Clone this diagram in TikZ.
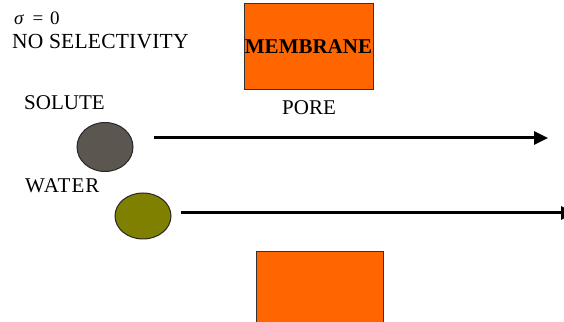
\documentclass[tikz,border=0pt]{standalone}
\usepackage{fontspec}
\setmainfont{Liberation Serif}
\usetikzlibrary{arrows.meta,shapes.geometric}
\begin{document}
\begin{tikzpicture}[x=1pt,y=1pt,
  label/.style={inner sep=0pt, anchor=base west, font=\fontsize{21}{25}\selectfont},
  membrane/.style={draw=black!80, line width=1pt, fill=orangefill, inner sep=0pt},
  particle/.style={draw=black!85, line width=1pt, ellipse, inner sep=0pt},
  flow/.style={line width=3pt, -{Triangle[length=14pt,width=13pt]}}]
\definecolor{orangefill}{HTML}{FF6600}
\definecolor{solutefill}{HTML}{5C5650}
\definecolor{waterfill}{HTML}{808000}
\useasboundingbox (0,0) rectangle (564,321);
\clip (0,0) rectangle (564,321);

% heading
\node[label, font=\fontsize{19}{23}\selectfont] (sigma) at (14,296) {\textit{σ}\hspace{0.45em}=\hspace{0.35em}0};
\node[label, font=\fontsize{21.5}{25}\selectfont\addfontfeature{LetterSpace=1}] (nosel) at (12,272) {NO SELECTIVITY};

% membrane blocks on either side of the pore
\node[membrane, minimum width=129pt, minimum height=86pt] (memtop) at (308.5,274)
  {\fontsize{21}{24}\selectfont\bfseries MEMBRANE};
\node[membrane, minimum width=127pt, minimum height=100pt] (membot) at (319.5,19) {};
\node[label] (pore) at (282,206) {PORE};

% particles
\node[label] (solutelbl) at (24,211) {SOLUTE};
\node[label, font=\fontsize{21}{25}\selectfont\addfontfeature{LetterSpace=5}] (waterlbl) at (25,128) {WATER};
\node[particle, fill=solutefill, minimum width=56pt, minimum height=49pt] (solute) at (105,174) {};
\node[particle, fill=waterfill, minimum width=56pt, minimum height=46pt] (water) at (143,105) {};

% both pass through the pore
\coordinate (soluteend) at (548,183);
\coordinate (waterend) at (575,108);
\draw[flow] ([xshift=20pt,yshift=9pt]solute.east) -- (soluteend);
\draw[flow] ([xshift=9pt,yshift=3pt]water.east) -- (waterend);
\end{tikzpicture}
\end{document}
